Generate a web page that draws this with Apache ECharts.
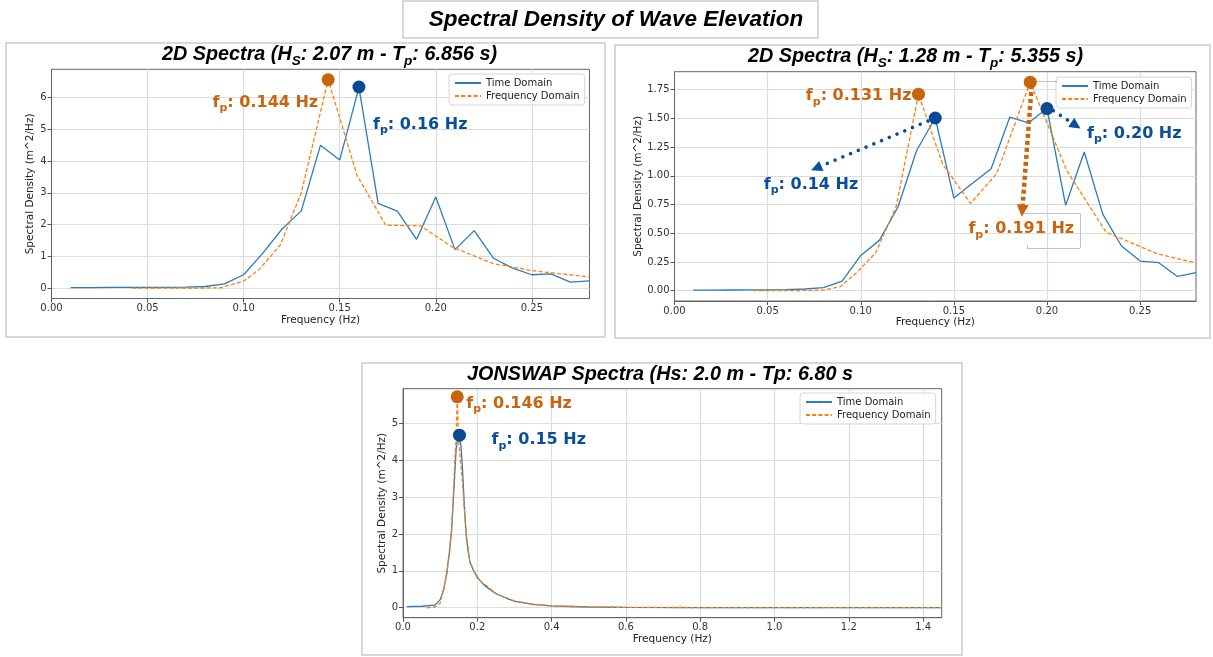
<!DOCTYPE html>
<html><head><meta charset="utf-8">
<script src="https://cdn.jsdelivr.net/npm/echarts@6/dist/echarts.min.js"></script>
<style>html,body{margin:0;padding:0;background:#fff}#c{width:1213px;height:657px}</style>
</head><body><div id="c"></div>
<script>
// ---------------- DATA ----------------
// Top-left: 2D spectra Hs 2.07 m
const tlTimeF = [0.01,0.02,0.03,0.04,0.05,0.06,0.07,0.08,0.09,0.10,0.11,0.12,0.13,0.14,0.15,0.16,0.17,0.18,0.19,0.20,0.21,0.22,0.23,0.24,0.25,0.26,0.27,0.28];
const tlTimeV = [0.015,0.015,0.02,0.02,0.02,0.025,0.03,0.05,0.13,0.42,1.10,1.86,2.43,4.50,4.03,6.32,2.67,2.42,1.53,2.87,1.21,1.81,0.94,0.63,0.42,0.45,0.19,0.23];
const tlFreqF = [0.042,0.060,0.075,0.088,0.100,0.108,0.119,0.130,0.144,0.159,0.174,0.192,0.209,0.230,0.250,0.280];
const tlFreqV = [0.0,0.0,0.0,0.01,0.22,0.58,1.35,3.00,6.56,3.55,1.98,1.96,1.28,0.77,0.55,0.35];
const tlOrangePeakF = [0.144], tlOrangePeakV = [6.56], tlOrangeText = ['0.144 Hz'];
const tlBluePeakF = [0.16], tlBluePeakV = [6.33], tlBlueText = ['0.16 Hz'];
const tlXTicks = [0,0.05,0.10,0.15,0.20,0.25];
const tlYTicks = [0,1,2,3,4,5,6];

// Top-right: 2D spectra Hs 1.28 m
const trTimeF = [0.01,0.02,0.03,0.04,0.05,0.06,0.07,0.08,0.09,0.10,0.11,0.12,0.13,0.14,0.15,0.16,0.17,0.18,0.19,0.20,0.21,0.22,0.23,0.24,0.25,0.26,0.27,0.28];
const trTimeV = [0.005,0.005,0.006,0.007,0.008,0.010,0.015,0.026,0.083,0.307,0.438,0.728,1.22,1.503,0.806,0.935,1.062,1.51,1.46,1.585,0.743,1.207,0.664,0.389,0.258,0.244,0.124,0.157];
const trFreqF = [0.042,0.060,0.080,0.089,0.098,0.108,0.119,0.131,0.144,0.159,0.173,0.191,0.2105,0.2317,0.2586,0.280];
const trFreqV = [0.0,0.0,0.005,0.035,0.16,0.33,0.73,1.71,1.10,0.76,1.02,1.815,1.05,0.51,0.325,0.24];
const trOrangePeakF = [0.131,0.191], trOrangePeakV = [1.71,1.815], trOrangeText = ['0.131 Hz','0.191 Hz'];
const trBluePeakF = [0.14,0.20], trBluePeakV = [1.503,1.585], trBlueText = ['0.14 Hz','0.20 Hz'];
const trXTicks = [0,0.05,0.10,0.15,0.20,0.25];
const trYTicks = [0,0.25,0.50,0.75,1.00,1.25,1.50,1.75];

// Bottom: JONSWAP
const bTimeF = [0.01,0.05,0.086,0.10,0.11,0.118,0.125,0.131,0.137,0.143,0.148,0.152,0.156,0.161,0.166,0.170,0.175,0.180,0.190,0.203,0.220,0.250,0.280,0.300,0.350,0.400,0.500,0.600,0.800,1.000,1.200,1.450];
const bTimeV = [0.03,0.04,0.07,0.22,0.50,0.97,1.50,2.15,3.20,4.30,4.62,4.68,4.40,3.60,2.60,2.00,1.55,1.24,1.00,0.79,0.60,0.38,0.25,0.18,0.09,0.05,0.02,0.01,0.005,0.003,0.002,0.001];
const bFreqF = [0.064,0.086,0.100,0.118,0.131,0.140,0.1425,0.146,0.1495,0.152,0.160,0.170,0.180,0.200,0.250,0.300,0.350,0.400,0.500,0.600,0.800,1.000,1.200,1.450];
const bFreqV = [0.0,0.02,0.12,0.90,2.10,4.10,4.50,5.72,4.60,4.30,3.40,2.00,1.25,0.80,0.39,0.18,0.09,0.05,0.02,0.01,0.005,0.002,0.001,0.001];
const bOrangePeakF = [0.146], bOrangePeakV = [5.72], bOrangeText = ['0.146 Hz'];
const bBluePeakF = [0.152], bBluePeakV = [4.68], bBlueText = ['0.15 Hz'];
const bXTicks = [0,0.2,0.4,0.6,0.8,1.0,1.2,1.4];
const bYTicks = [0,1,2,3,4,5];

const legendNames = ['Time Domain','Frequency Domain'];
// --------------------------------------

const LINE_BLUE = '#2a7dba', LINE_ORANGE = '#ff7f0e';
const DOT_ORANGE = '#c8640a', DOT_BLUE = '#0a4a94';
const TXT_ORANGE = '#c8650e', TXT_BLUE = '#0a4d99';
const TICKFONT = {fontFamily:'DejaVu Sans', fontSize:10, color:'#333'};

const chart = echarts.init(document.getElementById('c'));

function pairs(f, v){ return f.map((x,i)=>[x, v[i]]); }

function mkX(gi, max, ticks, dec){
  return {type:'value', gridIndex:gi, min:0, max:max,
    axisLine:{show:true, onZero:false, lineStyle:{color:'#666', width:1}},
    axisTick:{show:true, length:4, customValues:ticks, lineStyle:{color:'#555'}},
    axisLabel:{customValues:ticks, formatter:v=>v.toFixed(dec), margin:5, ...TICKFONT},
    splitLine:{show:true, lineStyle:{color:'#dcdcdc', width:1.2}},
    name:'Frequency (Hz)', nameLocation:'middle', nameGap:16,
    nameTextStyle:{fontFamily:'DejaVu Sans', fontSize:10.5, color:'#222'}};
}
function mkY(gi, min, max, ticks, dec, gap){
  return {type:'value', gridIndex:gi, min:min, max:max,
    axisLine:{show:true, onZero:false, lineStyle:{color:'#666', width:1}},
    axisTick:{show:true, length:4, customValues:ticks, lineStyle:{color:'#555'}},
    axisLabel:{customValues:ticks, formatter:v=>v.toFixed(dec), margin:5, ...TICKFONT},
    splitLine:{show:true, lineStyle:{color:'#dcdcdc', width:1.2}},
    name:'Spectral Density (m^2/Hz)', nameLocation:'middle', nameGap:gap, nameRotate:90,
    nameTextStyle:{fontFamily:'DejaVu Sans', fontSize:10.5, color:'#222'}};
}
function mkLegend(left, top){
  return {data:legendNames, orient:'vertical', left:left, top:top, itemWidth:26, itemHeight:12, itemGap:3,
    padding:[4,5,4,5], backgroundColor:'rgba(255,255,255,0.85)', borderColor:'#d6d6d6', borderWidth:1, borderRadius:3,
    selectedMode:false, itemStyle:{opacity:0, borderWidth:0},
    textStyle:{fontFamily:'DejaVu Sans', fontSize:10, color:'#222'}};
}
function lineSeries(gi, name, data, color, dashed){
  return {type:'line', name:name, xAxisIndex:gi, yAxisIndex:gi, data:data, symbol:'none', silent:true, animation:false, z:2,
    lineStyle:{color:color, width:1.3, type: dashed ? [4,2.2] : 'solid'}, itemStyle:{color:color}};
}
const annRich = {
  mo:{fontFamily:'DejaVu Sans', fontWeight:'bold', fontSize:16, color:TXT_ORANGE, lineHeight:22},
  so:{fontFamily:'DejaVu Sans', fontWeight:'bold', fontSize:11, color:TXT_ORANGE, lineHeight:10, verticalAlign:'bottom'},
  mb:{fontFamily:'DejaVu Sans', fontWeight:'bold', fontSize:16, color:TXT_BLUE, lineHeight:22},
  sb:{fontFamily:'DejaVu Sans', fontWeight:'bold', fontSize:11, color:TXT_BLUE, lineHeight:10, verticalAlign:'bottom'}
};
function peakSeries(gi, key, color, fs, vs, texts, lab, markLine){
  const s = {type:'scatter', name:'peaks'+gi+key, xAxisIndex:gi, yAxisIndex:gi, symbolSize:13, z:5, silent:true, animation:false,
    itemStyle:{color:color, opacity:1},
    data: fs.map((f,i)=>({value:[f, vs[i]], label:{show:true, position:'inside', verticalAlign:'middle',
      formatter:'{m'+key+'|f}{s'+key+'|p}{m'+key+'|: '+texts[i]+'}', rich:annRich, align:lab[i].align, offset:lab[i].offset}}))};
  if (markLine) s.markLine = markLine;
  return s;
}

const grids = [
  {left:51.5, top:69.3, width:538, height:229.2},
  {left:674.5, top:71.7, width:521.5, height:229.3},
  {left:403, top:388.7, width:538.7, height:229}
].map(g=>Object.assign(g, {show:true, borderColor:'#666', borderWidth:1, containLabel:false}));

const titleM = {fontFamily:'Liberation Sans', fontSize:19.8, fontWeight:'bold', fontStyle:'italic', fill:'#000', lineHeight:26};
const titleS = {fontFamily:'Liberation Sans', fontSize:13.5, fontWeight:'bold', fontStyle:'italic', fill:'#000', lineHeight:12, verticalAlign:'bottom'};
function titleText(x, y, text){
  return {type:'text', x:x, y:y, z:20, silent:true,
    style:{text:text, align:'center', verticalAlign:'middle', rich:{m:titleM, s:titleS}}};
}
function frame(x,y,w,h){
  return {type:'rect', shape:{x:x,y:y,width:w,height:h}, silent:true, z:-1,
    style:{fill:'none', stroke:'#cccccc', lineWidth:1.5}};
}

const option = {
  backgroundColor:'#fff',
  animation:false,
  grid: grids,
  xAxis:[mkX(0,0.28,tlXTicks,2), mkX(1,0.28,trXTicks,2), mkX(2,1.45,bXTicks,1)],
  yAxis:[mkY(0,-0.328,6.888,tlYTicks,0,15), mkY(1,-0.0896,1.906,trYTicks,2,30), mkY(2,-0.27,5.94,bYTicks,0,14)],
  legend:[mkLegend(449,74), mkLegend(1056,77), mkLegend(800,393)],
  series:[
    lineSeries(0,'Time Domain',pairs(tlTimeF,tlTimeV),LINE_BLUE,false),
    lineSeries(0,'Frequency Domain',pairs(tlFreqF,tlFreqV),LINE_ORANGE,true),
    peakSeries(0,'o',DOT_ORANGE,tlOrangePeakF,tlOrangePeakV,tlOrangeText,[{align:'right',offset:[-10,23]}]),
    peakSeries(0,'b',DOT_BLUE,tlBluePeakF,tlBluePeakV,tlBlueText,[{align:'left',offset:[14,38]}]),

    Object.assign(lineSeries(1,'Time Domain',pairs(trTimeF,trTimeV),LINE_BLUE,false), {
      markLine:{silent:true, animation:false, symbol:['none','none'], label:{show:false},
        lineStyle:{color:'#c4c4c4', width:1, type:'solid'},
        data:[
          [{coord:[0.1935,1.822]},{coord:[0.2058,1.822]}],
          [{coord:[0.1865,0.676]},{coord:[0.2178,0.676]}],
          [{coord:[0.2178,0.676]},{coord:[0.2178,0.372]}],
          [{coord:[0.2178,0.372]},{coord:[0.1892,0.372]}],
          [{coord:[0.1892,0.372]},{coord:[0.1892,0.40]}]
        ]}}),
    lineSeries(1,'Frequency Domain',pairs(trFreqF,trFreqV),LINE_ORANGE,true),
    peakSeries(1,'o',DOT_ORANGE,trOrangePeakF,trOrangePeakV,trOrangeText,
      [{align:'right',offset:[-7,2]},{align:'center',offset:[-9,147]}],
      {silent:true, animation:false, symbol:['none','triangle'], symbolSize:12, label:{show:false},
       lineStyle:{color:TXT_ORANGE, width:4.5, type:[4,3], opacity:1},
       data:[[{coord:[0.1918,1.79]},{coord:[0.1867,0.696]}]]}),
    peakSeries(1,'b',DOT_BLUE,trBluePeakF,trBluePeakV,trBlueText,
      [{align:'right',offset:[-77,67]},{align:'left',offset:[40,25]}],
      {silent:true, animation:false, symbol:['none','triangle'], symbolSize:11, label:{show:false},
       lineStyle:{color:TXT_BLUE, width:3.5, type:[0.1,8.3], cap:'round', opacity:1},
       data:[[{coord:[0.1361,1.477]},{coord:[0.0761,1.067]}],
             [{coord:[0.2034,1.567]},{coord:[0.2155,1.438]}]]}),

    lineSeries(2,'Time Domain',pairs(bTimeF,bTimeV),LINE_BLUE,false),
    lineSeries(2,'Frequency Domain',pairs(bFreqF,bFreqV),LINE_ORANGE,true),
    peakSeries(2,'o',DOT_ORANGE,bOrangePeakF,bOrangePeakV,bOrangeText,[{align:'left',offset:[9,7]}]),
    peakSeries(2,'b',DOT_BLUE,bBluePeakF,bBluePeakV,bBlueText,[{align:'left',offset:[32,5]}])
  ],
  graphic:[
    frame(403,1,415,37), frame(6,43,599,294), frame(615,45,595,293), frame(362,363,600,292),
    {type:'text', x:616, y:20, z:20, silent:true,
     style:{text:'Spectral Density of Wave Elevation', align:'center', verticalAlign:'middle',
       fontFamily:'Liberation Sans', fontSize:22.5, fontWeight:'bold', fontStyle:'italic', fill:'#000'}},
    titleText(329.5, 55, '{m|2D Spectra (H}{s|S}{m|: 2.07 m - T}{s|p}{m|: 6.856 s)}'),
    titleText(915.5, 57, '{m|2D Spectra (H}{s|S}{m|: 1.28 m - T}{s|p}{m|: 5.355 s)}'),
    titleText(660, 375, '{m|JONSWAP Spectra (Hs: 2.0 m - Tp: 6.80 s}')
  ]
};
chart.setOption(option);
</script></body></html>
